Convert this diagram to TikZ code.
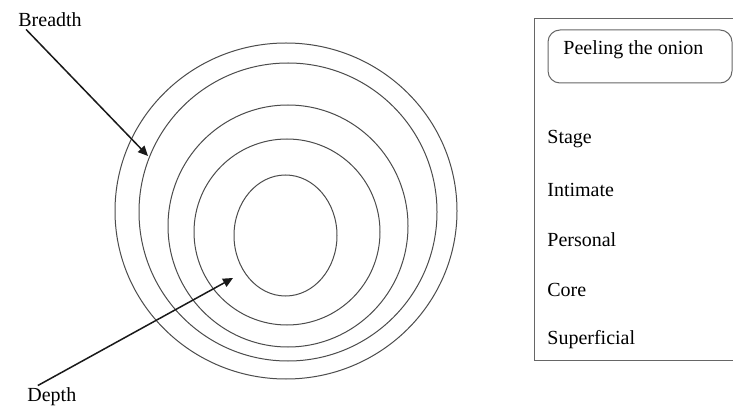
\documentclass[tikz,border=0pt]{standalone}
\usepackage{fontspec}
\setmainfont{Liberation Serif}
\usetikzlibrary{shapes.geometric,arrows.meta}
\begin{document}
\begin{tikzpicture}[x=0.5pt,y=-0.5pt,
  ring/.style={ellipse,draw=black!70,line width=0.5pt,inner sep=0pt},
  label/.style={font=\fontsize{10}{12}\selectfont,inner sep=0pt,anchor=west},
  pointer/.style={draw=black!90,line width=0.75pt,-{Triangle[length=5pt,width=4.5pt]}}]
\useasboundingbox (0,0) rectangle (733,406);
\clip (0,0) rectangle (733,406);
\fill[white] (0,0) rectangle (733,406);

% onion layers (sizes in pt: one pixel unit is 0.5pt)
\node[ring,minimum width=171pt,minimum height=168pt] (l1) at (286,211) {};
\node[ring,minimum width=149pt,minimum height=149pt] (l2) at (288,212) {};
\node[ring,minimum width=120pt,minimum height=121pt] (l3) at (288,226) {};
\node[ring,minimum width=93pt,minimum height=93pt] (l4) at (287,232) {};
\node[ring,minimum width=51.5pt,minimum height=60.5pt] (l5) at (285.5,235.5) {};

% axis labels and arrows
\node[label] (breadth) at (18,20) {Breadth};
\node[label] (depth) at (27,397) {Depth};
\coordinate (btip) at (148,156);
\coordinate (dtip) at (233,278);
\draw[pointer] ([xshift=-12pt,yshift=-1pt]breadth.south) -- (btip);
\draw[pointer] ([xshift=-7pt,yshift=1pt]depth.north) -- (dtip);

% legend panel
\draw[draw=black!60,line width=0.5pt] (534,19) rectangle (760,360);
\node[draw=black!60,line width=0.5pt,rounded corners=6pt,minimum width=92pt,minimum height=26.5pt,inner sep=0pt] (title) at (640,56.5) {};
\node[label] (titletext) at (563,50) {Peeling the onion};
\node[label] (stage) at (547,139) {Stage};
\node[label] (intimate) at (547,190) {Intimate};
\node[label] (personal) at (547,240) {Personal};
\node[label] (core) at (547,290) {Core};
\node[label] (superficial) at (547,340) {Superficial};
\end{tikzpicture}
\end{document}
